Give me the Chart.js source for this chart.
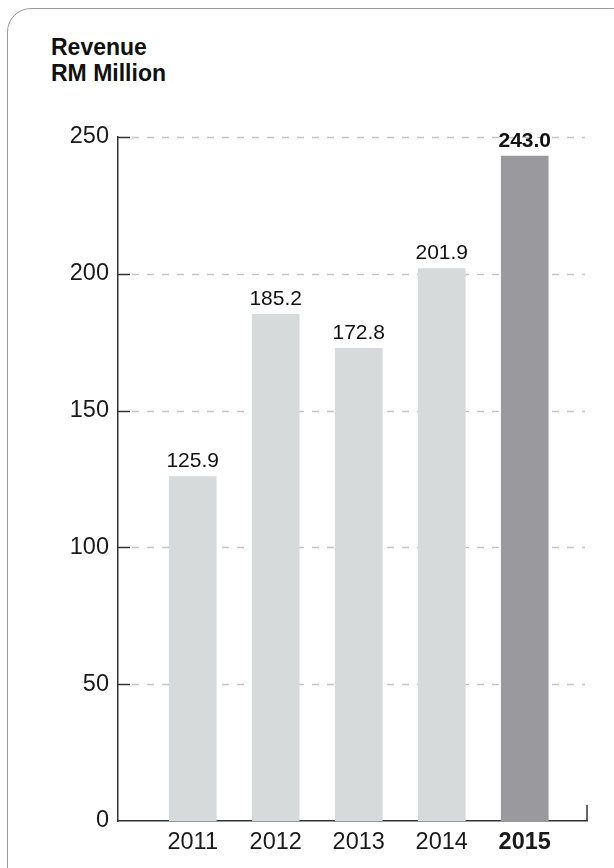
<!DOCTYPE html>
<html>
<head>
<meta charset="utf-8">
<title>Revenue</title>
<script src="https://cdn.jsdelivr.net/npm/chart.js@4/dist/chart.umd.min.js"></script>
<style>
    body { margin: 0; background: #fff; }
    #wrap { position: relative; width: 614px; height: 868px; overflow: hidden; font-family: "Liberation Sans", Arial, Helvetica, sans-serif; }
    #frame { position: absolute; left: 7px; top: 8px; width: 630px; height: 890px; border: 1.5px solid #999; border-radius: 24px; box-sizing: border-box; }
    #heading { position: absolute; left: 51px; top: 34px; font-size: 23px; line-height: 26px; font-weight: bold; color: #111; }
    canvas { position: absolute; left: 0; top: 0; }
</style>
</head>
<body>
<div id="wrap">
    <div id="frame"></div>
    <div id="heading">Revenue<br>RM Million</div>
    <canvas id="revenueChart" width="614" height="868"></canvas>
</div>
<script>
// Revenue by year, RM million
const years = [2011, 2012, 2013, 2014, 2015];
const revenue = [125.9, 185.2, 172.8, 201.9, 243.0];
const yTicks = [0, 50, 100, 150, 200, 250];
const highlightYear = 2015;

const FONT = '"Liberation Sans", Arial, Helvetica, sans-serif';
const lightBar = '#d6dada';
const darkBar = '#9a999e';

// Short dark ticks inside the axis, then dashed guide lines across the plot
const guideLines = {
    id: 'guideLines',
    beforeDatasetsDraw(chart) {
        const { ctx, chartArea, scales } = chart;
        const y = scales.y;
        ctx.save();
        yTicks.forEach(v => {
            if (v === 0) return;
            const py = Math.round(y.getPixelForValue(v)) + 0.5;
            ctx.setLineDash([]);
            ctx.strokeStyle = '#333';
            ctx.lineWidth = 1.5;
            ctx.beginPath();
            ctx.moveTo(chartArea.left, py);
            ctx.lineTo(chartArea.left + 12, py);
            ctx.stroke();
            ctx.setLineDash([7, 8]);
            ctx.strokeStyle = '#c4c4c4';
            ctx.lineWidth = 1.3;
            ctx.beginPath();
            ctx.moveTo(chartArea.left + 14, py);
            ctx.lineTo(chartArea.right - 2, py);
            ctx.stroke();
        });
        ctx.restore();
    },
    afterDraw(chart) {
        // small upright tick closing the x axis on the right
        const { ctx, chartArea } = chart;
        ctx.save();
        ctx.strokeStyle = '#333';
        ctx.lineWidth = 1.5;
        ctx.beginPath();
        ctx.moveTo(chartArea.right, chartArea.bottom);
        ctx.lineTo(chartArea.right, chartArea.bottom - 16);
        ctx.stroke();
        ctx.restore();
    }
};

// Value printed above each bar
const barValues = {
    id: 'barValues',
    afterDatasetsDraw(chart) {
        const { ctx } = chart;
        const meta = chart.getDatasetMeta(0);
        ctx.save();
        ctx.textAlign = 'center';
        ctx.textBaseline = 'alphabetic';
        ctx.fillStyle = '#111';
        meta.data.forEach((bar, i) => {
            const bold = years[i] === highlightYear;
            ctx.font = (bold ? 'bold ' : '') + '21px ' + FONT;
            ctx.fillText(revenue[i].toFixed(1), bar.x, bar.y - 9.5);
        });
        ctx.restore();
    }
};

const ctx = document.getElementById('revenueChart').getContext('2d');
const revenueChart = new Chart(ctx, {
    type: 'bar',
    data: {
        datasets: [{
            data: years.map((yr, i) => ({ x: yr, y: revenue[i] })),
            backgroundColor: years.map(yr => yr === highlightYear ? darkBar : lightBar),
            barThickness: 47,
            borderWidth: 0
        }]
    },
    options: {
        responsive: false,
        animation: false,
        layout: { padding: { top: 137, right: 27, left: 0, bottom: 0 } },
        plugins: {
            legend: { display: false },
            tooltip: { enabled: false }
        },
        scales: {
            x: {
                type: 'linear',
                offset: false,
                min: 2010.1,
                max: 2015.75,
                afterBuildTicks: scale => { scale.ticks = years.map(v => ({ value: v })); },
                afterFit: scale => { scale.height = 47; },
                grid: { display: false, drawTicks: false, offset: false },
                border: { display: true, color: '#333', width: 1.5 },
                ticks: {
                    padding: 7,
                    color: '#1a1a1a',
                    autoSkip: false,
                    maxRotation: 0,
                    callback: v => String(v),
                    font: c => ({
                        family: FONT,
                        size: 23.5,
                        weight: c.tick && c.tick.value === highlightYear ? 'bold' : 'normal'
                    })
                }
            },
            y: {
                min: 0,
                max: 250,
                afterBuildTicks: scale => { scale.ticks = yTicks.map(v => ({ value: v })); },
                afterFit: scale => { scale.width = 118; },
                grid: { display: false, drawTicks: false },
                border: { display: true, color: '#333', width: 1.5 },
                ticks: {
                    padding: 9,
                    color: '#1a1a1a',
                    font: { family: FONT, size: 23.5 }
                }
            }
        }
    },
    plugins: [guideLines, barValues]
});
</script>
</body>
</html>
